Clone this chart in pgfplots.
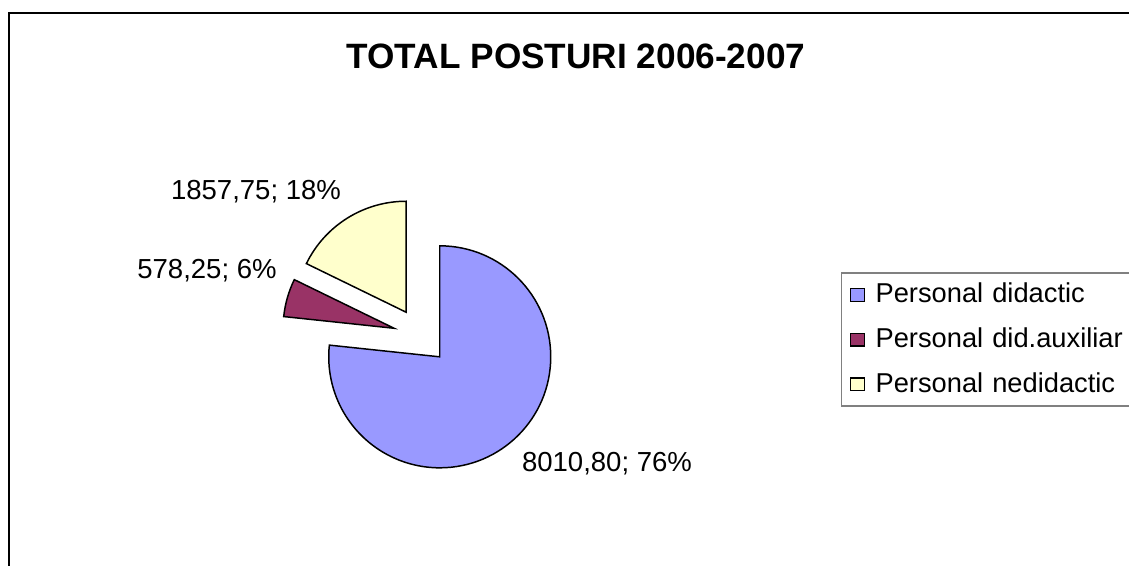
\documentclass[border=0pt]{standalone}
\usepackage{pgfplots}
\pgfplotsset{compat=1.18}
\usepackage{pgfplotstable}
\usepackage{fontspec}
\setmainfont{Liberation Sans}
\usetikzlibrary{calc}
\definecolor{cdid}{HTML}{9999FF}
\definecolor{caux}{HTML}{993366}
\definecolor{cned}{HTML}{FFFFCC}
\definecolor{legframe}{HTML}{808080}

\pgfplotstableread{
name value
didactic 8010.80
auxiliar 578.25
nedidactic 1857.75
}\posturi

\pgfplotstablegetelem{0}{value}\of\posturi \let\va\pgfplotsretval
\pgfplotstablegetelem{1}{value}\of\posturi \let\vb\pgfplotsretval
\pgfplotstablegetelem{2}{value}\of\posturi \let\vc\pgfplotsretval
% work in hundreds to stay inside TeX's dimension range
\pgfmathsetmacro\tot{(\va+\vb+\vc)/100}
\pgfmathsetmacro\aA{90-360*((\va/100)/\tot)}
\pgfmathsetmacro\aB{\aA-360*((\vb/100)/\tot)}
\pgfmathsetmacro\aC{\aB-360*((\vc/100)/\tot)}
\pgfmathsetmacro\mA{(90+\aA)/2}
\pgfmathsetmacro\mB{(\aA+\aB)/2}
\pgfmathsetmacro\mC{(\aB+\aC)/2}
% 1 px = 16cm/1129
\def\R{1.573cm}
\def\ex{0.397cm}

\begin{document}
\begin{tikzpicture}
\begin{axis}[
  scale only axis, width=16cm, height=8.0213cm,
  xmin=0, xmax=1129, ymin=0, ymax=566, y dir=reverse,
  hide axis, clip=false,
  legend style={at={(axis cs:841,272.5)}, anchor=north west,
    draw=legframe, line width=0.5pt, font=\fontsize{11}{13}\selectfont,
    inner xsep=3.2pt, inner ysep=2.5pt, row sep=5.6pt,
    nodes={inner sep=1.5pt, text width=3.8cm, align=left},
    /tikz/every odd column/.append style={column sep=2.8pt}},
  legend cell align=left,
  legend image code/.code={\draw[#1, line width=0.5pt] (0cm,-0.09cm) rectangle (0.2cm,0.09cm);},
]
\coordinate (bl) at (axis cs:0,566);
\coordinate (tr) at (axis cs:1129,0);
\coordinate (c) at (axis cs:421,336);

\addlegendimage{fill=cdid, draw=black}
\addlegendentry{Personal didactic}
\addlegendimage{fill=caux, draw=black}
\addlegendentry{Personal did.auxiliar}
\addlegendimage{fill=cned, draw=black}
\addlegendentry{Personal nedidactic}

\filldraw[fill=cdid, draw=black, line width=0.6pt]
  ($(c)+(\mA:\ex)$) -- ++(90:\R) arc[start angle=90, end angle=\aA, radius=\R] -- cycle;
\filldraw[fill=caux, draw=black, line width=0.6pt]
  ($(c)+(\mB:\ex)$) -- ++(\aA:\R) arc[start angle=\aA, end angle=\aB, radius=\R] -- cycle;
\filldraw[fill=cned, draw=black, line width=0.6pt]
  ($(c)+(\mC:\ex)$) -- ++(\aB:\R) arc[start angle=\aB, end angle=\aC, radius=\R] -- cycle;

\node[font=\fontsize{11.1}{13}\selectfont] at (axis cs:607,464) {8010,80; 76\%};
\node[font=\fontsize{11.1}{13}\selectfont] at (axis cs:207,271) {578,25; 6\%};
\node[font=\fontsize{11.1}{13}\selectfont] at (axis cs:256,192) {1857,75; 18\%};
\node[font=\bfseries\fontsize{14.2}{16}\selectfont] at (axis cs:576,56) {TOTAL POSTURI 2006-2007};

\draw[black, line width=0.8pt] (axis cs:9,13) rectangle (axis cs:1150,590);
\end{axis}
\pgfresetboundingbox
\path[use as bounding box] (bl) rectangle (tr);
\end{tikzpicture}
\end{document}
